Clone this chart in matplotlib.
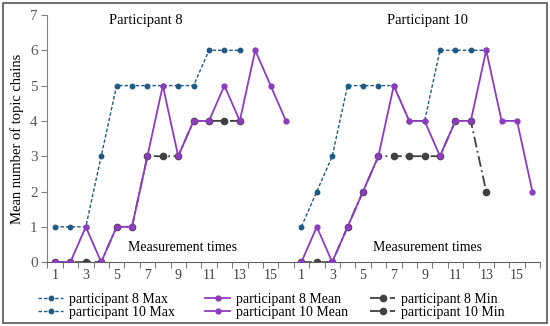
import matplotlib
matplotlib.use("Agg")
import matplotlib.pyplot as plt
from matplotlib.patches import Rectangle
import numpy as np

plt.rcParams['font.family'] = ['Liberation Serif', 'DejaVu Serif']

times = list(range(1, 17))
tick_labels = [str(t) if t % 2 == 1 else "" for t in times] * 2

p8_max = [1, 1, 1, 3, 5, 5, 5, 5, 5, 5, 6, 6, 6]
p8_mean = [0, 0, 1, 0, 1, 1, 3, 5, 3, 4, 4, 5, 4, 6, 5, 4]
p8_min = [0, 0, 0, 0, 1, 1, 3, 3, 3, 4, 4, 4, 4]

p10_max = [1, 2, 3, 5, 5, 5, 5, 4, 4, 6, 6, 6, 6]
p10_mean = [0, 1, 0, 1, 2, 3, 5, 4, 4, 3, 4, 4, 6, 4, 4, 2]
p10_min = [0, 0, 0, 1, 2, 3, 3, 3, 3, 3, 4, 4, 2]

c_max = "#1f5a85"
c_mean = "#8e3bbf"
c_min = "#404040"

fig = plt.figure(figsize=(5.5, 3.26), dpi=100)
ax = fig.add_axes([0.086, 0.196, 0.896, 0.758])

def xs(vals, offset):
    return np.arange(1, len(vals) + 1) + offset

style_max = dict(color=c_max, linestyle=(0, (2.5, 1.5)), linewidth=1.0, marker='o', markersize=3.2)
style_mean = dict(color=c_mean, linestyle='-', linewidth=1.3, marker='o', markersize=3.5)
style_min = dict(color=c_min, linestyle=(0, (6, 2, 1, 2)), linewidth=1.3, marker='o', markersize=4.5)

ax.plot(xs(p8_min, 0), p8_min, zorder=2, **style_min)
ax.plot(xs(p10_min, 16), p10_min, zorder=2, **style_min)
ax.plot(xs(p8_max, 0), p8_max, zorder=3, **style_max)
ax.plot(xs(p10_max, 16), p10_max, zorder=3, **style_max)
ax.plot(xs(p8_mean, 0), p8_mean, zorder=4, **style_mean)
ax.plot(xs(p10_mean, 16), p10_mean, zorder=4, **style_mean)

ax.set_xlim(0.5, 32.5)
ax.set_ylim(0, 7)
ax.set_yticks(range(0, 8))
ax.set_xticks(np.arange(1, 33))
ax.set_xticklabels(tick_labels)
ax.set_xticks(np.arange(0.5, 33, 1), minor=True)
ax.tick_params(axis='x', which='major', length=0, pad=5, labelsize=10, labelcolor='#404040')
ax.tick_params(axis='x', which='minor', length=4, direction='out', color='#606060')
ax.tick_params(axis='y', length=4, direction='out', color='#808080', labelsize=11, labelcolor='#595959', pad=3)
for s in ['top', 'right']:
    ax.spines[s].set_visible(False)
ax.spines['left'].set_color('#808080')
ax.spines['bottom'].set_color('#606060')
ax.set_ylabel("Mean number of topic chains", fontsize=10.5, labelpad=4)

ax.text(6.9, 6.85, "Participant 8", ha='center', va='center', fontsize=10.5)
ax.text(25.2, 6.85, "Participant 10", ha='center', va='center', fontsize=10.5)
ax.text(9.3, 0.4, "Measurement times", ha='center', va='center', fontsize=10)
ax.text(25.2, 0.4, "Measurement times", ha='center', va='center', fontsize=10)

groups = [
    (style_max, ["participant 8 Max", "participant 10 Max"], 38),
    (style_mean, ["participant 8 Mean", "participant 10 Mean"], 205),
    (style_min, ["participant 8 Min", "participant 10 Min"], 370),
]
for style, labs, xpix in groups:
    hs = [plt.Line2D([], [], **style), plt.Line2D([], [], **style)]
    fig.legend(hs, labs, loc='center left', bbox_to_anchor=(xpix / 550, 1 - 306 / 326),
               frameon=False, fontsize=10, handlelength=1.8, handletextpad=0.43,
               labelspacing=-0.05, borderpad=0, borderaxespad=0)

fig.patches.append(Rectangle((0.006, 0.01), 0.988, 0.98, transform=fig.transFigure,
                             fill=False, edgecolor='#555555', linewidth=1.2))

fig.savefig("out.png", dpi=100)
